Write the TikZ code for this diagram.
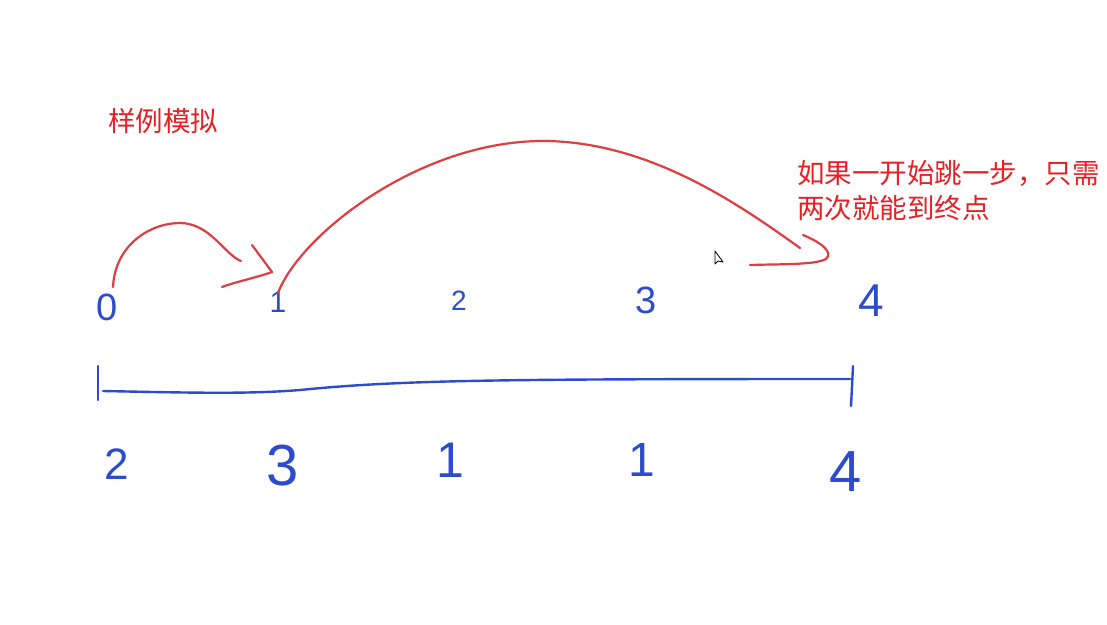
\documentclass[tikz,border=0pt]{standalone}
\usepackage{fontspec}
\newfontfamily\cjk{Noto Sans CJK SC}
\newfontfamily\hand{Liberation Sans}
\definecolor{txtred}{RGB}{232,32,36}
\definecolor{penred}{RGB}{222,62,66}
\definecolor{penblue}{RGB}{45,75,205}
\begin{document}
\begin{tikzpicture}[x=1pt,y=-1pt,
  redpen/.style={draw=penred,line width=2.2pt,line cap=round,line join=round},
  bluepen/.style={draw=penblue,line width=2.4pt,line cap=round,line join=round},
  note/.style={text=txtred,inner sep=0pt,font=\cjk\fontsize{27.5}{35}\selectfont},
  digit/.style={text=penblue,inner sep=0pt,font=\hand\fontsize{#1}{#1}\selectfont},
  digit/.default=34]
\useasboundingbox[fill=white] (0,0) rectangle (1107,624);

% labels
\node[note,anchor=base west] (title) at (108,131) {样例模拟};
\node[note,anchor=base west,align=left] (remark) at (797,218) {如果一开始跳一步，只需\\两次就能到终点};

% top row: positions
\node[digit=38] (p0) at (107,307) {0};
\node[digit=30] (p1) at (278,302) {1};
\node[digit=28] (p2) at (459,301) {2};
\node[digit=38] (p3) at (646,300) {3};
\node[digit=46] (p4) at (871,301) {4};

% bottom row: jump lengths
\node[digit=44] (v0) at (117,464) {2};
\node[digit=58] (v1) at (283,466) {3};
\node[digit=50] (v2) at (450,460) {1};
\node[digit=48] (v3) at (642,460) {1};
\node[digit=58] (v4) at (846,472) {4};

% number line
\coordinate (lt1) at (98,366);
\coordinate (lb1) at (98,400);
\coordinate (ls) at (103,391);
\coordinate (le) at (850,379);
\coordinate (rt1) at (853,366);
\coordinate (rb1) at (851,406);
\draw[bluepen] (lt1) -- (lb1);
\draw[bluepen] (ls) .. controls (200,393) and (250,394) .. (300,390)
                    .. controls (400,380) and (500,379) .. (le);
\draw[bluepen] (rt1) -- (rb1);

% small jump 0 -> 1
\coordinate (a0) at (113,287);
\coordinate (a1) at (241,261);
\draw[redpen] (a0) .. controls (115,245) and (150,223) .. (180,223)
                   .. controls (210,223) and (225,255) .. (a1);
\coordinate (h1a) at (252,245);
\coordinate (h1b) at (272,272);
\coordinate (h1c) at (222,287);
\draw[redpen] (h1a) .. controls (262,258) .. (h1b) .. controls (255,278) and (235,282) .. (h1c);

% big jump 1 -> 4
\coordinate (b0) at (278,293);
\coordinate (b1) at (800,248);
\draw[redpen] (b0) .. controls (300,235) and (420,140) .. (545,141)
                   .. controls (650,142) and (740,205) .. (b1);
\coordinate (h2a) at (803,235);
\coordinate (h2b) at (750,265);
\draw[redpen] (h2a) .. controls (820,242) and (834,252) .. (826,259)
                    .. controls (815,265) and (780,264) .. (h2b);

% mouse cursor
\draw[black,line width=0.8pt,fill=white,line join=round]
  (715,251) -- (715,264) -- (718,261) -- (723,262) -- cycle;
\end{tikzpicture}
\end{document}
